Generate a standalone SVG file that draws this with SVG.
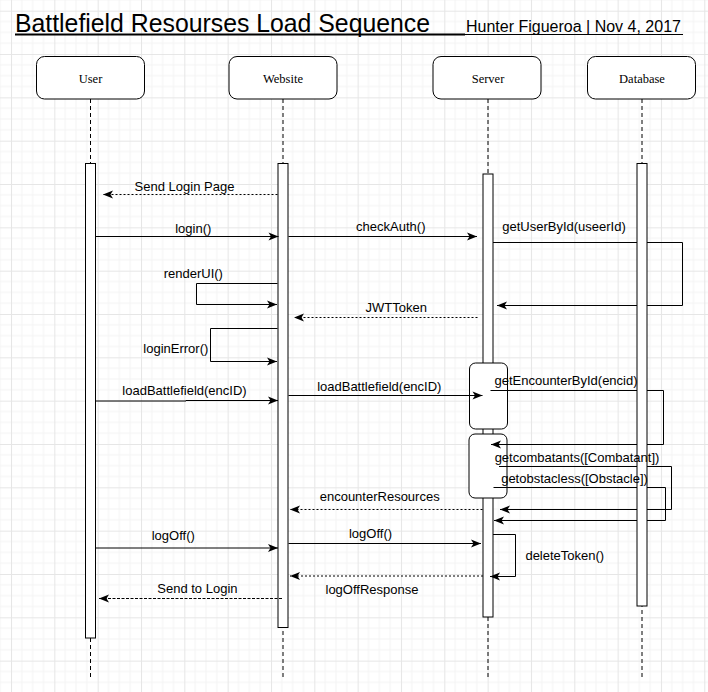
<svg xmlns="http://www.w3.org/2000/svg" width="708" height="692" viewBox="0 0 708 692">
<style>
.box{fill:#fff;stroke:#000;stroke-width:1}
.bar{fill:#fff;stroke:#000;stroke-width:1}
.life{stroke:#000;stroke-width:1;stroke-dasharray:4 3;fill:none}
.nl{font-family:"Liberation Serif",serif;font-size:12.5px;fill:#000;text-anchor:middle}
.msg{fill:none;stroke:#000;stroke-width:1;marker-end:url(#arr)}
.dot{stroke-dasharray:2 2}
.dash{stroke-dasharray:3 1.5}
.lbl{font-family:"Liberation Sans",Arial,sans-serif;font-size:13px;fill:#000;text-anchor:middle}
</style>
<defs>
<pattern id="grid" x="11" y="10.7" width="43.33" height="43.33" patternUnits="userSpaceOnUse">
<rect width="43.33" height="43.33" fill="#fff"/>
<path d="M10.83,0 V43.33 M21.67,0 V43.33 M32.5,0 V43.33 M0,10.83 H43.33 M0,21.67 H43.33 M0,32.5 H43.33" stroke="#f4f4f4" stroke-width="1" fill="none"/>
<path d="M0.5,0 V43.33 M0,0.5 H43.33" stroke="#e6e6e6" stroke-width="1" fill="none"/>
</pattern>
<marker id="arr" markerUnits="userSpaceOnUse" markerWidth="12" markerHeight="10" refX="10" refY="4" orient="auto" overflow="visible">
<path d="M0,0 L10,4 L0,8 L2.5,4 z" fill="#000" stroke="none"/>
</marker>
</defs>
<rect width="708" height="692" fill="url(#grid)"/>

<g id="title">
<text x="15" y="32" font-family="'Liberation Sans',Arial,sans-serif" font-size="25" fill="#000" textLength="415" lengthAdjust="spacingAndGlyphs">Battlefield Resourses Load Sequence</text>
<line x1="15" y1="34.5" x2="465" y2="34.5" stroke="#000" stroke-width="1.8"/>
<text x="466" y="32" font-family="'Liberation Sans',Arial,sans-serif" font-size="16" fill="#000">Hunter Figueroa | Nov 4, 2017</text>
<line x1="465" y1="34.5" x2="683" y2="34.5" stroke="#000" stroke-width="1"/>
</g>

<g id="user">
<rect class="box" x="36.5" y="56.5" width="108" height="42.5" rx="8"/>
<text class="nl" x="90.5" y="83">User</text>
<line class="life" x1="90.5" y1="99" x2="90.5" y2="680"/>
<rect class="bar" x="85.5" y="163.5" width="10" height="474.5"/>
</g>

<g id="website">
<rect class="box" x="229" y="56.5" width="108" height="42.5" rx="8"/>
<text class="nl" x="283" y="83">Website</text>
<line class="life" x1="283" y1="99" x2="283" y2="680"/>
<rect class="bar" x="278" y="163.5" width="10" height="464"/>
</g>

<g id="server">
<rect class="box" x="433" y="56.5" width="108" height="42.5" rx="8"/>
<text class="nl" x="488" y="83">Server</text>
<line class="life" x1="488" y1="99" x2="488" y2="680"/>
<rect class="bar" x="483" y="174" width="10" height="443"/>
<rect class="box" x="469.5" y="363" width="38" height="66" rx="6"/>
<rect class="box" x="469" y="434" width="38" height="64" rx="6"/>
</g>

<g id="connectors">
<path class="msg dot" d="M277.5,194.5 H103"/>
<path class="msg" d="M96,236.5 H278.5"/>
<path class="msg" d="M288.5,236.5 H477"/>
<path class="msg" d="M493,242.5 H682.5 V305.5 H497"/>
<path class="msg" d="M277.5,283.5 H196.5 V304.5 H277"/>
<path class="msg dot" d="M477.5,317.5 H294"/>
<path class="msg" d="M277.5,328.5 H210.5 V361.5 H277"/>
<path class="msg" d="M96,401 H186 V400.5 H278"/>
<path class="msg" d="M288.5,395.5 H482.5"/>
<path class="msg" d="M490.5,390.5 H663.5 V444.5 H491"/>
<path class="msg" d="M499,466.5 H671.5 V509.5 H500"/>
<path class="msg" d="M493.5,487.5 H665.5 V520.5 H494"/>
<path class="msg dot" d="M482.5,509.5 H290"/>
<path class="msg" d="M96,548 H278"/>
<path class="msg" d="M288.5,543.5 H481"/>
<path class="msg" d="M493,534.5 H515.5 V576.5 H490"/>
<path class="msg dot" d="M483,576 H290"/>
<path class="msg dash" d="M282,598.5 H99"/>
</g>

<g id="database">
<rect class="box" x="587.5" y="56.5" width="108" height="42.5" rx="8"/>
<text class="nl" x="642" y="83">Database</text>
<line class="life" x1="642" y1="99" x2="642" y2="680"/>
<rect class="bar" x="637" y="163.5" width="10" height="442.5"/>
</g>

<g id="connector-labels">
<text class="lbl" x="184.5" y="191">Send Login Page</text>
<text class="lbl" x="193.3" y="232.5">login()</text>
<text class="lbl" x="390.8" y="231">checkAuth()</text>
<text class="lbl" x="564" y="231">getUserById(useerId)</text>
<text class="lbl" x="193.3" y="277.5">renderUI()</text>
<text class="lbl" x="396.3" y="312">JWTToken</text>
<text class="lbl" x="175.8" y="352.5">loginError()</text>
<text class="lbl" x="184.5" y="395">loadBattlefield(encID)</text>
<text class="lbl" x="379.3" y="391">loadBattlefield(encID)</text>
<text class="lbl" x="566" y="384.5">getEncounterById(encid)</text>
<text class="lbl" x="577" y="462">getcombatants([Combatant])</text>
<text class="lbl" x="574.5" y="482.5">getobstacless([Obstacle])</text>
<text class="lbl" x="379.7" y="501">encounterResources</text>
<text class="lbl" x="173.3" y="540">logOff()</text>
<text class="lbl" x="370.5" y="537.5">logOff()</text>
<text class="lbl" x="564.8" y="560">deleteToken()</text>
<text class="lbl" x="372" y="594">logOffResponse</text>
<text class="lbl" x="197.4" y="592.5">Send to Login</text>
</g>
</svg>
